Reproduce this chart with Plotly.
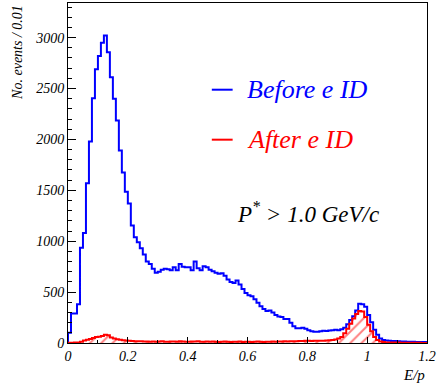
import numpy as np
import plotly.graph_objects as go

# E/p histogram, bin width 0.01 from 0 to 1.2
bin_edges = [round(i * 0.01, 2) for i in range(121)]

before_eid = [
    100, 290, 290, 380, 935, 1080, 1570, 1980, 2405, 2690,
    2820, 2950, 3020, 2855, 2610, 2400, 2185, 1890, 1675, 1485,
    1370, 1155, 1040, 990, 930, 870, 800, 775, 730, 690,
    700, 720, 730, 725, 715, 745, 715, 775, 750, 745,
    745, 715, 800, 735, 715, 755, 745, 720, 705, 690,
    680, 685, 660, 625, 600, 590, 615, 575, 530, 490,
    470, 460, 430, 395, 360, 335, 315, 320, 300, 275,
    260, 255, 235, 235, 200, 165, 145, 145, 150, 140,
    125, 115, 110, 110, 115, 120, 118, 122, 125, 130,
    125, 135, 150, 185, 225, 262, 320, 385, 380, 355,
    275, 205, 130, 80, 45, 30, 25, 22, 20, 20,
    18, 15, 14, 13, 12, 12, 11, 10, 10, 9,
]

after_eid = [
    2, 3, 4, 6, 12, 25, 32, 40, 50, 58,
    62, 68, 80, 75, 55, 45, 38, 32, 28, 25,
    22, 20, 18, 17, 16, 15,
    14, 13, 15, 12, 14, 16, 13, 12, 15, 14,
    13, 17, 14, 12, 13, 15, 14, 16, 13, 12,
    14, 13, 15, 12, 11, 13, 14, 12, 11, 13,
    12, 14, 11, 12, 13, 11, 12, 14, 12, 11,
    13, 12, 14, 13, 15, 14, 16, 15, 17, 16,
    18, 20, 19, 21, 22, 20, 21, 23, 22,
    22, 25, 28, 30, 35, 45, 60, 95, 140, 190,
    240, 285, 315, 310, 255, 180, 115, 60, 30, 15,
    10, 5, 5, 4, 4, 4, 3, 3, 3, 2, 2, 2, 2, 1, 1,
]

x_ticks = [0, 0.2, 0.4, 0.6, 0.8, 1.0, 1.2]
x_tick_text = ["0", "0.2", "0.4", "0.6", "0.8", "1", "1.2"]
y_ticks = [0, 500, 1000, 1500, 2000, 2500, 3000]
y_tick_text = ["0", "500", "1000", "1500", "2000", "2500", "3000"]

assert len(before_eid) == 120 and len(after_eid) == 120


def step_xy(vals):
    xs = [bin_edges[0]] + list(bin_edges)
    ys = [0] + list(vals) + [vals[-1]]
    return xs, ys


def it(s):
    return "<i>" + s + "</i>"


SERIF = "Liberation Serif"
fig = go.Figure()

bx, by = step_xy(before_eid)
fig.add_trace(go.Scatter(
    x=bx, y=by, mode="lines", line=dict(color="#0000ff", width=2, shape="hv"),
    showlegend=False, hoverinfo="skip"))

rx, ry = step_xy(after_eid)
fig.add_trace(go.Scatter(
    x=rx, y=ry, mode="lines", line=dict(color="#ff0000", width=2, shape="hv"),
    fill="tozeroy", fillcolor="rgba(0,0,0,0)",
    fillpattern=dict(shape="/", fgcolor="#ff0000", bgcolor="rgba(0,0,0,0)",
                     size=8, solidity=0.25),
    showlegend=False, hoverinfo="skip"))

fig.update_layout(
    width=438, height=385,
    margin=dict(l=68, r=8, t=2, b=42),
    paper_bgcolor="white", plot_bgcolor="white",
    font=dict(family=SERIF, color="black"),
    xaxis=dict(range=[0, 1.2], tickvals=x_ticks, ticktext=[it(t) for t in x_tick_text],
               ticks="inside", ticklen=6, tickcolor="black", tickwidth=1,
               minor=dict(dtick=0.1, ticks="inside", ticklen=3, tickcolor="black"),
               showgrid=False, zeroline=False, showline=True, linecolor="black",
               linewidth=1, mirror=True, ticklabeloverflow="allow",
               tickfont=dict(family=SERIF, size=14, color="black")),
    yaxis=dict(range=[0, 3340], tickvals=y_ticks, ticktext=[it(t) for t in y_tick_text],
               ticks="inside", ticklen=8, tickcolor="black", tickwidth=1,
               minor=dict(dtick=100, ticks="inside", ticklen=4, tickcolor="black"),
               showgrid=False, zeroline=False, showline=True, linecolor="black",
               linewidth=1, mirror=True,
               tickfont=dict(family=SERIF, size=14, color="black")),
)

# legend markers
fig.add_shape(type="line", xref="paper", yref="paper", x0=0.4006, x1=0.4586,
              y0=0.745, y1=0.745, line=dict(color="#0000ff", width=2))
fig.add_shape(type="line", xref="paper", yref="paper", x0=0.4006, x1=0.4586,
              y0=0.598, y1=0.598, line=dict(color="#ff0000", width=2))

fig.add_annotation(text=it("Before e ID"), xref="paper", yref="paper", x=0.4917, y=0.745,
                   xanchor="left", yanchor="middle", showarrow=False,
                   font=dict(family=SERIF, size=26, color="#0000ff"))
fig.add_annotation(text=it("After e ID"), xref="paper", yref="paper", x=0.4917, y=0.598,
                   xanchor="left", yanchor="middle", showarrow=False,
                   font=dict(family=SERIF, size=26, color="#ff0000"))
fig.add_annotation(text=it("P<sup>*</sup> > 1.0 GeV/c"), xref="paper", yref="paper",
                   x=0.464, y=0.385, xanchor="left", yanchor="middle", showarrow=False,
                   font=dict(family=SERIF, size=23, color="black"))

# axis titles
fig.add_annotation(text=it("No. events / 0.01"), xref="paper", yref="paper",
                   x=-0.141, y=1.0, xanchor="center", yanchor="top", textangle=-90,
                   showarrow=False,
                   font=dict(family=SERIF, size=14, color="black"))
fig.add_annotation(text=it("E/p"), xref="paper", yref="paper", x=1.0, y=-0.094,
                   xanchor="right", yanchor="middle", showarrow=False,
                   font=dict(family=SERIF, size=15, color="black"))

fig.write_html("out.html", config={"displayModeBar": False},
               post_script="document.body.style.margin='0px';document.body.style.padding='0px';")
